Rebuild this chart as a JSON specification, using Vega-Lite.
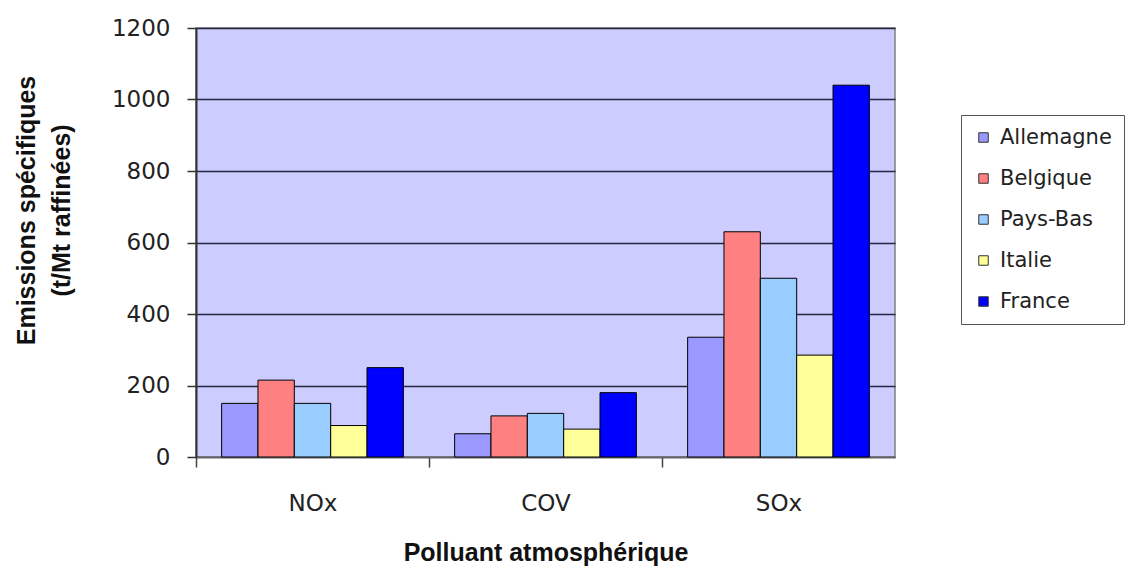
{
  "$schema": "https://vega.github.io/schema/vega-lite/v6.json",
  "width": 699,
  "height": 429,
  "autosize": {"type": "none"},
  "padding": {"left": 196, "top": 28, "right": 230, "bottom": 111},
  "background": "white",
  "config": {
    "view": {"fill": "#CCCCFF", "stroke": "#808080", "strokeWidth": 1.5},
    "axis": {"labelFont": "DejaVu Sans", "titleFont": "Liberation Sans", "labelColor": "#222222", "titleColor": "#111111"}
  },
  "data": {
    "values": [
      {"polluant": "NOx", "pays": "Allemagne", "emissions": 150},
      {"polluant": "NOx", "pays": "Belgique", "emissions": 215},
      {"polluant": "NOx", "pays": "Pays-Bas", "emissions": 150},
      {"polluant": "NOx", "pays": "Italie", "emissions": 88},
      {"polluant": "NOx", "pays": "France", "emissions": 250},
      {"polluant": "COV", "pays": "Allemagne", "emissions": 65},
      {"polluant": "COV", "pays": "Belgique", "emissions": 115},
      {"polluant": "COV", "pays": "Pays-Bas", "emissions": 122},
      {"polluant": "COV", "pays": "Italie", "emissions": 78},
      {"polluant": "COV", "pays": "France", "emissions": 180},
      {"polluant": "SOx", "pays": "Allemagne", "emissions": 335},
      {"polluant": "SOx", "pays": "Belgique", "emissions": 630},
      {"polluant": "SOx", "pays": "Pays-Bas", "emissions": 500},
      {"polluant": "SOx", "pays": "Italie", "emissions": 285},
      {"polluant": "SOx", "pays": "France", "emissions": 1040}
    ]
  },
  "mark": {"type": "bar", "stroke": "#000000", "strokeWidth": 1},
  "encoding": {
    "x": {
      "field": "polluant",
      "type": "nominal",
      "sort": ["NOx", "COV", "SOx"],
      "scale": {"paddingInner": 0.22, "paddingOuter": 0.11},
      "axis": {
        "title": "Polluant atmosphérique",
        "titleFontSize": 25,
        "titleFontWeight": "bold",
        "titlePadding": 25,
        "labelAngle": 0,
        "labelFontSize": 23,
        "labelPadding": 25,
        "tickOffset": -116.5,
        "labelOffset": 116.5,
        "tickSize": 10,
        "tickColor": "#444444",
        "tickWidth": 1.5,
        "domainColor": "#666666",
        "domainWidth": 1.5,
        "grid": false
      }
    },
    "xOffset": {
      "field": "pays",
      "type": "nominal",
      "sort": ["Allemagne", "Belgique", "Pays-Bas", "Italie", "France"],
      "scale": {"paddingInner": 0, "paddingOuter": 0}
    },
    "y": {
      "field": "emissions",
      "type": "quantitative",
      "scale": {"domain": [0, 1200], "nice": false},
      "axis": {
        "title": ["Emissions spécifiques", "(t/Mt raffinées)"],
        "titleFontSize": 25,
        "titleFontWeight": "bold",
        "titleAngle": -90,
        "titleAlign": "center",
        "titleBaseline": "middle",
        "titleLineHeight": 35,
        "titleX": -170,
        "titleY": 182,
        "values": [0, 200, 400, 600, 800, 1000, 1200],
        "format": "d",
        "labelFontSize": 23,
        "labelPadding": 17,
        "tickSize": 9,
        "tickColor": "#333333",
        "tickWidth": 1.5,
        "domainColor": "#333333",
        "domainWidth": 2,
        "grid": true,
        "gridColor": "#262640",
        "gridWidth": 1.5
      }
    },
    "color": {
      "field": "pays",
      "type": "nominal",
      "sort": ["Allemagne", "Belgique", "Pays-Bas", "Italie", "France"],
      "scale": {
        "domain": ["Allemagne", "Belgique", "Pays-Bas", "Italie", "France"],
        "range": ["#9999FF", "#FF8080", "#99CCFF", "#FFFF99", "#0000FF"]
      },
      "legend": {
        "title": null,
        "orient": "none",
        "legendX": 765,
        "legendY": 87,
        "padding": 12,
        "fillColor": "white",
        "strokeColor": "#555555",
        "symbolType": "square",
        "symbolSize": 90,
        "symbolStrokeColor": "#333333",
        "symbolStrokeWidth": 1,
        "symbolOpacity": 1,
        "labelFont": "DejaVu Sans",
        "labelFontSize": 21,
        "labelColor": "#222222",
        "labelOffset": 6,
        "rowPadding": 19
      }
    }
  }
}
